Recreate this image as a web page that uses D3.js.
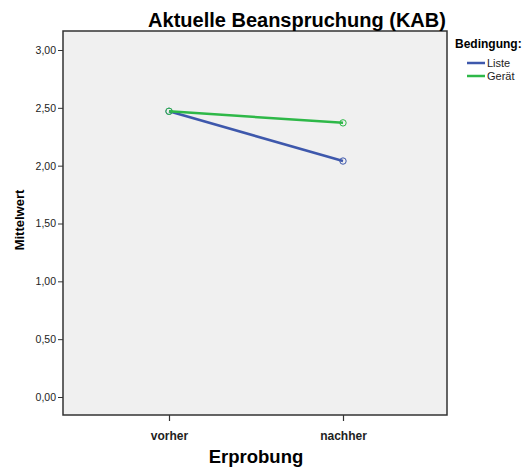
<!DOCTYPE html>
<html>
<head>
<meta charset="utf-8">
<script src="https://cdn.jsdelivr.net/npm/d3@7"></script>
<style>
  body { margin: 0; background: white; }
  svg { font-family: Arial, "Liberation Sans", sans-serif; }
</style>
</head>
<body>
<div id="vis"></div>
<script>
// data
var categories = ['vorher', 'nachher'];
var seriesNames = ['Liste', 'Gerät'];
var listeValues = [2.47, 2.04];
var geraetValues = [2.47, 2.37];
var yTicks = [0, 0.5, 1, 1.5, 2, 2.5, 3];

var colors = {'Liste': '#3e58ac', 'Gerät': '#2eb848'};

var svgWidth = 525, svgHeight = 468;

var svg = d3.select('#vis').append('svg')
  .attr('width', svgWidth)
  .attr('height', svgHeight);

// plot frame
var frame = {left: 63, top: 31, right: 447, bottom: 415};

svg.append('rect')
  .attr('x', frame.left)
  .attr('y', frame.top)
  .attr('width', frame.right - frame.left)
  .attr('height', frame.bottom - frame.top)
  .attr('fill', '#f0f0f0')
  .attr('stroke', '#333')
  .attr('stroke-width', 1.5);

// scales
var xScale = d3.scalePoint().domain(categories).range([169, 343]);
var yScale = d3.scaleLinear().domain([0, 3]).range([397, 50]);

var fmt = function(d) { return d3.format('.2f')(d).replace('.', ','); };

// y axis
var yAxis = svg.append('g')
  .attr('transform', 'translate(' + frame.left + ',0)')
  .call(d3.axisLeft(yScale).tickValues(yTicks).tickFormat(fmt).tickSize(5).tickSizeOuter(0));
yAxis.select('.domain').remove();
yAxis.selectAll('line').attr('stroke', '#333');
yAxis.selectAll('text')
  .attr('font-size', 10.5)
  .attr('fill', '#222')
  .attr('dx', 1);

// x axis
var xAxis = svg.append('g')
  .attr('transform', 'translate(0,' + frame.bottom + ')')
  .call(d3.axisBottom(xScale).tickSize(6).tickSizeOuter(0));
xAxis.select('.domain').remove();
xAxis.selectAll('line').attr('stroke', '#333').attr('stroke-width', 1.2);
xAxis.selectAll('text')
  .attr('font-size', 12)
  .attr('font-weight', 'bold')
  .attr('fill', '#222')
  .attr('dy', '1.3em');

// title and axis labels
svg.append('text')
  .attr('x', 297).attr('y', 27)
  .attr('text-anchor', 'middle')
  .attr('font-size', 20)
  .attr('font-weight', 'bold')
  .text('Aktuelle Beanspruchung (KAB)');

svg.append('text')
  .attr('x', 256).attr('y', 463)
  .attr('text-anchor', 'middle')
  .attr('font-size', 18.5)
  .attr('font-weight', 'bold')
  .text('Erprobung');

svg.append('text')
  .attr('transform', 'translate(24,' + 220 + ') rotate(-90)')
  .attr('text-anchor', 'middle')
  .attr('font-size', 13)
  .attr('font-weight', 'bold')
  .text('Mittelwert');

// lines
var series = [
  {name: 'Liste', values: listeValues},
  {name: 'Gerät', values: geraetValues}
];

var makeLine = d3.line()
  .x(function(d, i) { return xScale(categories[i]); })
  .y(function(d) { return yScale(d); });

series.forEach(function(s) {
  svg.append('path')
    .attr('d', makeLine(s.values))
    .attr('fill', 'none')
    .attr('stroke', colors[s.name])
    .attr('stroke-width', 2.5);

  svg.selectAll('.dot-' + s.name)
    .data(s.values)
    .enter().append('circle')
    .attr('cx', function(d, i) { return xScale(categories[i]); })
    .attr('cy', function(d) { return yScale(d); })
    .attr('r', 3.2)
    .attr('fill', 'none')
    .attr('stroke', colors[s.name])
    .attr('stroke-width', 1);
});

// legend
svg.append('text')
  .attr('x', 455).attr('y', 48)
  .attr('font-size', 12)
  .attr('font-weight', 'bold')
  .text('Bedingung:');

seriesNames.forEach(function(name, i) {
  var y = 63 + i * 13;
  svg.append('line')
    .attr('x1', 467).attr('x2', 485)
    .attr('y1', y).attr('y2', y)
    .attr('stroke', colors[name])
    .attr('stroke-width', 2.5);
  svg.append('text')
    .attr('x', 487).attr('y', y + 4)
    .attr('font-size', 11)
    .attr('fill', '#222')
    .text(name);
});
</script>
</body>
</html>
